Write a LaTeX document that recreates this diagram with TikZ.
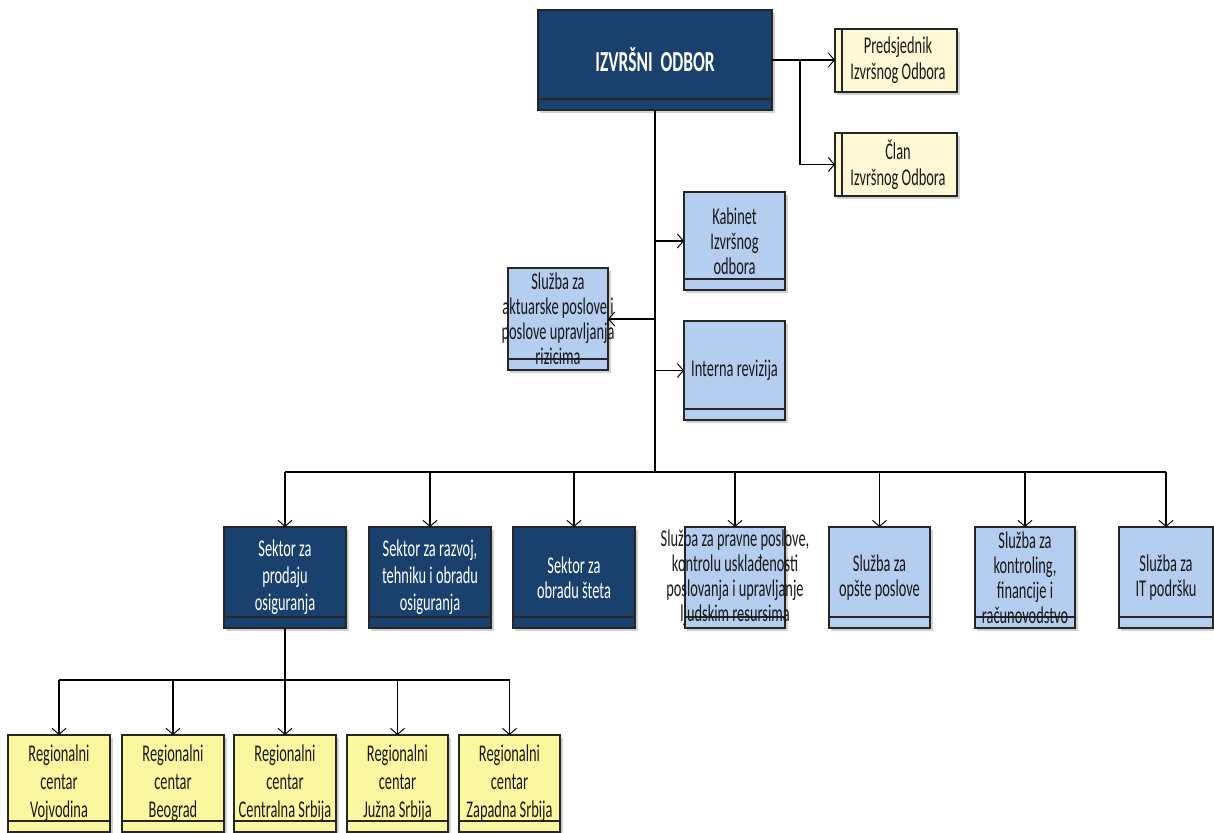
\documentclass[tikz,border=0pt]{standalone}
\usepackage{fontspec}
\setmainfont{Carlito}[FakeStretch=0.6]
\usetikzlibrary{arrows.meta}
\definecolor{dkblue}{HTML}{1A406E}
\definecolor{ltblue}{HTML}{B5CDEE}
\definecolor{cream}{HTML}{FFF8D6}
\definecolor{yel}{HTML}{FBF7A0}
\newcommand\obox[8]{%
  \fill[boxshade] (#2+2,#3+3) rectangle (#4+3,#5+3);
  \node[boxnode,#6,minimum width={(#4-#2)*0.5pt},minimum height={(#5-#3)*0.5pt}] (#1) at ({(#2+#4)/2},{(#3+#5)/2}) {};
  \draw[sepline] (#2,#5-11) -- (#4,#5-11);
  \node[txt,#7] (#1-t) at (#1) {#8};
}
\newcommand\cbox[6]{%
  \fill[boxshade] (#2+2,#3+3) rectangle (#4+3,#5+3);
  \node[boxnode,creamf,minimum width={(#4-#2)*0.5pt},minimum height={(#5-#3)*0.5pt}] (#1) at ({(#2+#4)/2},{(#3+#5)/2}) {};
  \draw[sepline] (#2+7,#3) -- (#2+7,#5);
  \node[txt,#6] (#1-t) at ({(#2+#4)/2+3},{(#3+#5)/2}) {#6};
}
\begin{document}
\begin{tikzpicture}[x=0.5pt,y=-0.5pt,
  boxshade/.style={fill=black, opacity=0.18},
  boxnode/.style={rectangle, draw=black!85, line width=0.7pt, inner sep=0pt, outer sep=0pt},
  sepline/.style={draw=black!85, line width=0.7pt},
  dark/.style={fill=dkblue},
  light/.style={fill=ltblue},
  creamf/.style={fill=cream},
  yelf/.style={fill=yel},
  txt/.style={align=center, inner sep=0pt, font=\fontsize{12}{12.5}\selectfont, text=black!90},
  wtxt/.style={text=white, font=\fontsize{12}{13.5}\selectfont},
  rtxt/.style={font=\fontsize{12}{14}\selectfont},
  conn/.style={draw=black, line width=0.7pt},
  arr/.style={conn, -{Straight Barb[length=3pt,width=7pt,line width=0.5pt]}}
]
\useasboundingbox (0,0) rectangle (1214,832);
\clip (0,0) rectangle (1214,832);
% top level
\obox{izv}{538}{10}{772}{110}{dark}{wtxt,font=\fontsize{14.5}{16}\selectfont\bfseries}{IZVRŠNI\ \ ODBOR}
\fill[boxshade] (837,32) rectangle (960,95);
\node[boxnode,creamf,minimum width=61pt,minimum height=31.5pt] (pred) at (896,60.5) {};
\draw[sepline] (842,29) -- (842,92);
\node[txt,font=\fontsize{12}{13}\selectfont] (pred-t) at (898,60.5) {Predsjednik\\Izvršnog Odbora};
\fill[boxshade] (837,136) rectangle (960,199);
\node[boxnode,creamf,minimum width=61pt,minimum height=31.5pt] (clan) at (896,164.5) {};
\draw[sepline] (842,133) -- (842,196);
\node[txt,font=\fontsize{12}{13}\selectfont] (clan-t) at (898,164.5) {Član\\Izvršnog Odbora};
% staff
\obox{kab}{684}{192}{785}{290}{light}{}{Kabinet\\Izvršnog\\odbora}
\obox{int}{684}{321}{785}{420}{light}{}{Interna revizija}
\obox{akt}{508}{268}{608}{370}{light}{}{Služba za\\aktuarske poslove i\\poslove upravljanja\\rizicima}
% second row
\obox{sp1}{224}{527}{346}{628}{dark}{wtxt}{Sektor za\\prodaju\\osiguranja}
\obox{sp2}{369}{527}{491}{628}{dark}{wtxt}{Sektor za razvoj,\\tehniku i obradu\\osiguranja}
\obox{sp3}{513}{527}{635}{628}{dark}{wtxt,font=\fontsize{12}{12.5}\selectfont}{Sektor za\\obradu šteta}
\obox{sp4}{685}{527}{785}{628}{light}{}{Služba za pravne poslove,\\kontrolu usklađenosti\\poslovanja i upravljanje\\ljudskim resursima}
\obox{sp5}{829}{527}{930}{628}{light}{}{Služba za\\opšte poslove}
\obox{sp6}{975}{527}{1075}{628}{light}{}{Služba za\\kontroling,\\financije i\\računovodstvo}
\obox{sp7}{1119}{527}{1213}{628}{light}{}{Služba za\\IT podršku}
% regional
\obox{rc1}{8}{735}{110}{832}{yelf}{rtxt}{Regionalni\\centar\\Vojvodina}
\obox{rc2}{122}{735}{224}{832}{yelf}{rtxt}{Regionalni\\centar\\Beograd}
\obox{rc3}{234}{735}{336}{832}{yelf}{rtxt}{Regionalni\\centar\\Centralna Srbija}
\obox{rc4}{347}{735}{448}{832}{yelf}{rtxt}{Regionalni\\centar\\Južna Srbija}
\obox{rc5}{459}{735}{560}{832}{yelf}{rtxt}{Regionalni\\centar\\Zapadna Srbija}
% connectors top
\coordinate (j1) at (800,60);
\draw[arr] (izv.east) -- (izv.east -| pred.west);
\draw[arr] (j1) |- (clan.west);
\coordinate (bus) at (655,472);
\draw[conn] (izv.south) -- (bus);
\draw[arr] (izv.south |- kab.west) -- (kab.west);
\draw[arr] (izv.south |- int.west) -- (int.west);
\draw[arr] (izv.south |- akt.east) -- (akt.east);
\draw[conn] (sp1.north |- bus) -- (sp7.north |- bus);
\foreach \n in {sp1,sp2,sp3,sp4,sp5,sp6,sp7}{\draw[arr] (\n.north |- bus) -- (\n.north);}
\coordinate (bus2) at (285,680);
\draw[conn] (sp1.south) -- (bus2);
\draw[conn] (rc1.north |- bus2) -- (rc5.north |- bus2);
\foreach \n in {rc1,rc2,rc3,rc4,rc5}{\draw[arr] (\n.north |- bus2) -- (\n.north);}
\end{tikzpicture}
\end{document}
